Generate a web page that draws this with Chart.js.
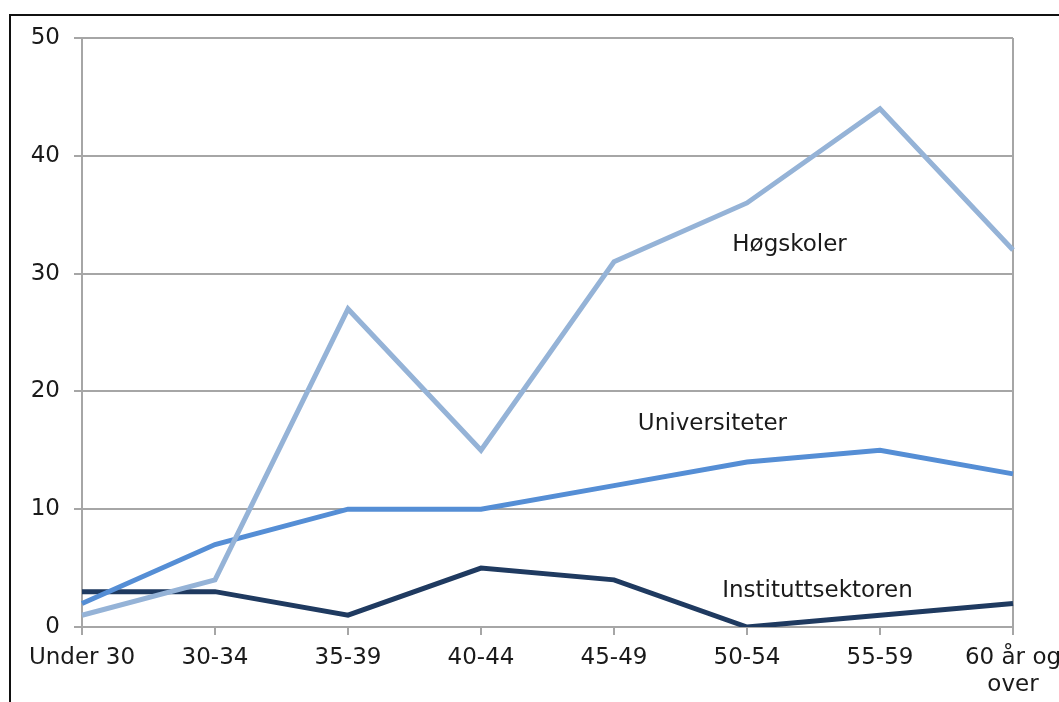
<!DOCTYPE html>
<html>
<head>
<meta charset="utf-8">
<script src="https://cdn.jsdelivr.net/npm/chart.js@4.4.0/dist/chart.umd.min.js"></script>
<style>
  html, body { margin: 0; padding: 0; overflow: hidden; background: #fff; }
  #wrap { position: relative; width: 1059px; height: 702px; overflow: hidden; }
  #frame { position: absolute; left: 9px; top: 14px; width: 1200px; height: 800px; border: 2px solid #111; box-sizing: border-box; }
  #box { position: absolute; left: 0; top: 0; width: 1120px; height: 702px; }
</style>
</head>
<body>
<div id="wrap">
  <div id="frame"></div>
  <div id="box"><canvas id="ageChart"></canvas></div>
</div>
<script>
const ageGroups = ['Under 30', '30-34', '35-39', '40-44', '45-49', '50-54', '55-59', ['60 år og', 'over']];
const hogskoler = [1, 4, 27, 15, 31, 36, 44, 32];
const universiteter = [2, 7, 10, 10, 12, 14, 15, 13];
const instituttsektoren = [3, 3, 1, 5, 4, 0, 1, 2];
const seriesNames = ['Høgskoler', 'Universiteter', 'Instituttsektoren'];

// where the series names sit inside the plot (category index, value)
const notes = [
    { text: seriesNames[0], x: 5.32, y: 32.4 },
    { text: seriesNames[1], x: 4.74, y: 17.2 },
    { text: seriesNames[2], x: 5.53, y: 3.05 }
];

const gridGrey = '#a6a6a6';
const fontFamily = '"DejaVu Sans", Verdana, sans-serif';

const notePlugin = {
    id: 'notes',
    afterDatasetsDraw(chart) {
        const c = chart.ctx;
        const xs = chart.scales.x;
        const ys = chart.scales.y;
        c.save();
        c.font = '23px ' + fontFamily;
        c.fillStyle = '#1a1a1a';
        c.textAlign = 'center';
        c.textBaseline = 'middle';
        notes.forEach(n => {
            c.fillText(n.text, xs.getPixelForValue(n.x), ys.getPixelForValue(n.y));
        });
        c.restore();
    }
};

const ctx = document.getElementById('ageChart');

new Chart(ctx, {
    type: 'line',
    data: {
        labels: ageGroups,
        datasets: [{
            label: seriesNames[0],
            data: hogskoler,
            borderColor: '#95b3d7',
            borderWidth: 5,
            pointRadius: 0,
            tension: 0,
            fill: false
        }, {
            label: seriesNames[1],
            data: universiteter,
            borderColor: '#558ed5',
            borderWidth: 5,
            pointRadius: 0,
            tension: 0,
            fill: false
        }, {
            label: seriesNames[2],
            data: instituttsektoren,
            borderColor: '#1f3a60',
            borderWidth: 5,
            pointRadius: 0,
            tension: 0,
            fill: false
        }]
    },
    options: {
        responsive: true,
        maintainAspectRatio: false,
        animation: false,
        layout: {
            padding: { top: 38, right: 107, left: 0, bottom: 0 }
        },
        plugins: {
            legend: { display: false },
            tooltip: { enabled: false }
        },
        scales: {
            x: {
                offset: false,
                grid: {
                    color: c => c.index === ageGroups.length - 1 ? gridGrey : 'transparent',
                    tickColor: gridGrey,
                    tickLength: 8,
                    lineWidth: 2
                },
                border: { color: gridGrey, width: 2 },
                ticks: {
                    color: '#1a1a1a',
                    font: { family: fontFamily, size: 23 },
                    padding: 9,
                    maxRotation: 0,
                    autoSkip: false
                },
                afterFit(scale) { scale.height = 75; }
            },
            y: {
                min: 0,
                max: 50,
                grid: {
                    color: gridGrey,
                    tickColor: gridGrey,
                    tickLength: 8,
                    lineWidth: 2
                },
                border: { color: gridGrey, width: 2 },
                ticks: {
                    stepSize: 10,
                    color: '#1a1a1a',
                    font: { family: fontFamily, size: 23 },
                    padding: 14
                },
                afterFit(scale) { scale.width = 82; }
            }
        }
    },
    plugins: [notePlugin]
});
</script>
</body>
</html>
